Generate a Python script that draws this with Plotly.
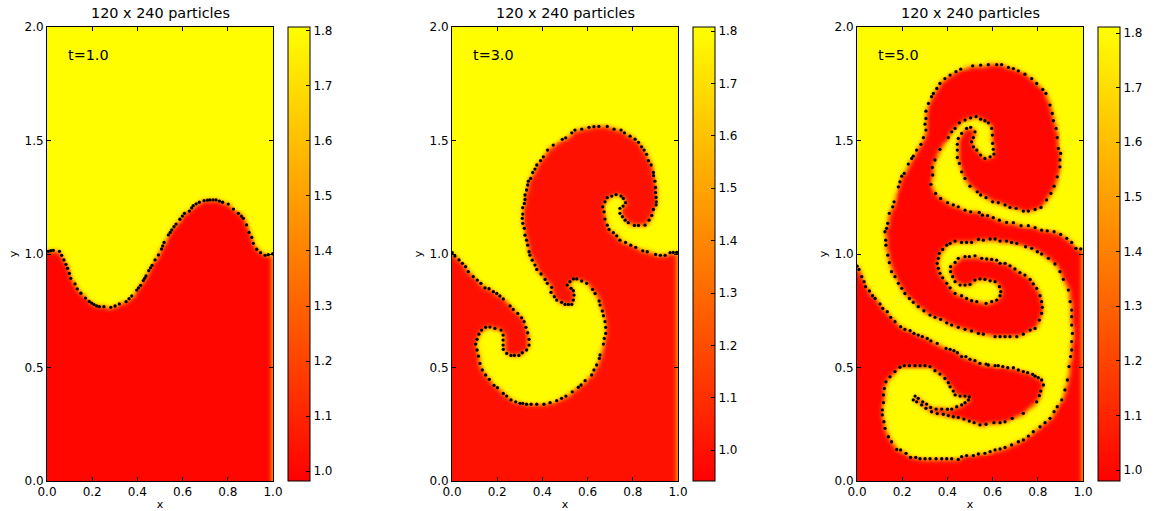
import numpy as np
import plotly.graph_objects as go

times = ["t=1.0", "t=3.0", "t=5.0"]
panel_title = "120 x 240 particles"
color_ranges = [(0.982, 1.807), (0.941, 1.808), (0.980, 1.811)]
low_density = 1.0
high_density = 1.8
x_ticks = [0.0, 0.2, 0.4, 0.6, 0.8, 1.0]
y_ticks = [0.0, 0.5, 1.0, 1.5, 2.0]
bar_ticks = [1.0, 1.1, 1.2, 1.3, 1.4, 1.5, 1.6, 1.7, 1.8]

interface_t1 = [(.006,1.012),(.017,1.015),(.028,1.016),(.055,1.012),(.065,.994),(.075,.974),(.084,.954),(.091,.937),(.099,.915),(.105,.893),
(.124,.868),(.134,.846),(.150,.827),(.170,.806),(.187,.791),(.198,.784),(.208,.777),(.220,.771),(.232,.768),(.252,.768),(.282,.765),(.301,.771),(.320,.780),(.350,.790),
(.363,.803),(.375,.815),(.397,.841),(.405,.851),(.414,.862),(.426,.883),(.432,.893),(.438,.903),(.450,.927),(.458,.939),(.465,.950),(.478,.974),(.493,.996),(.507,1.022),
(.512,1.036),(.518,1.051),(.537,1.084),(.545,1.095),(.552,1.106),(.562,1.120),(.571,1.132),(.588,1.153),(.599,1.167),(.608,1.179),(.630,1.189),(.640,1.203),(.647,1.213),(.660,1.221),(.674,1.228),
(.695,1.235),(.710,1.237),(.721,1.238),(.735,1.238),(.748,1.238),(.763,1.233),(.777,1.228),(.802,1.220),(.825,1.198),(.847,1.179),(.860,1.167),(.869,1.157),(.883,1.128),
(.894,1.095),(.906,1.073),(.913,1.047),(.928,1.021),(.945,1.006),(.965,.994),(.979,.997),(.999,1.001)]

interface_t3 = [(.001,1.006),(.013,.991),(.031,.974),(.046,.959),(.060,.944),(.072,.922),(.094,.900),(.112,.885),(.128,.871),(.146,.851),
(.164,.847),(.183,.834),(.198,.826),(.212,.815),(.227,.802),(.257,.771),(.271,.756),(.291,.738),(.308,.719),(.319,.702),(.327,.677),(.335,.653),
(.341,.624),(.341,.599),(.330,.577),(.311,.565),(.296,.553),(.276,.553),(.261,.553),(.242,.562),(.227,.580),(.226,.599),(.226,.621),(.226,.643),
(.217,.665),(.190,.672),(.168,.678),(.149,.677),(.131,.665),(.119,.647),(.111,.624),(.105,.603),(.111,.577),(.117,.550),(.124,.518),(.134,.489),
(.149,.467),(.165,.448),(.186,.421),(.201,.411),(.227,.386),(.242,.374),(.261,.357),(.282,.349),(.301,.342),(.313,.342),(.330,.338),(.350,.338),
(.375,.338),(.407,.338),(.434,.345),(.463,.354),(.485,.364),(.504,.374),(.532,.393),(.559,.413),(.571,.423),(.589,.442),(.618,.467),(.628,.489),
(.640,.511),(.652,.540),(.655,.555),(.670,.603),(.674,.628),(.680,.650),(.680,.677),(.677,.702),(.670,.728),(.665,.749),(.655,.775),(.651,.793),
(.633,.826),(.622,.844),(.596,.871),(.574,.881),(.552,.890),(.537,.890),(.522,.878),(.510,.863),(.527,.849),(.537,.838),(.540,.819),(.537,.797),
(.530,.778),(.515,.778),(.500,.778),(.485,.787),(.463,.797),(.453,.812),(.438,.831),(.441,.853),(.422,.871),(.412,.888),(.394,.912),(.375,.932),
(.367,.951),(.355,.973),(.345,.995),(.341,1.010),(.335,1.039),(.330,1.061),(.323,1.083),(.320,1.113),(.313,1.135),(.311,1.157),(.313,1.176),
(.313,1.204),(.320,1.223),(.323,1.240),(.323,1.260),(.330,1.282),(.335,1.304),(.338,1.321),(.348,1.333),(.357,1.359),(.367,1.374),(.375,1.392),
(.392,1.411),(.404,1.428),(.423,1.458),(.448,1.480),(.488,1.505),(.503,1.512),(.530,1.534),(.544,1.546),(.574,1.550),(.606,1.558),(.628,1.561),
(.650,1.562),(.687,1.562),(.717,1.550),(.748,1.546),(.763,1.534),(.788,1.519),(.810,1.506),(.825,1.492),(.839,1.472),(.850,1.458),(.861,1.439),
(.869,1.411),(.881,1.392),(.891,1.359),(.892,1.345),(.898,1.321),(.901,1.293),(.901,1.270),(.903,1.249),(.904,1.230),(.903,1.216),(.891,1.196),
(.884,1.170),(.872,1.149),(.854,1.127),(.825,1.126),(.807,1.126),(.780,1.138),(.766,1.149),(.754,1.164),(.743,1.179),(.743,1.201),(.757,1.211),
(.768,1.226),(.758,1.245),(.748,1.255),(.726,1.262),(.707,1.255),(.687,1.248),(.677,1.230),(.667,1.208),(.673,1.186),(.677,1.154),(.687,1.127),
(.695,1.108),(.714,1.094),(.729,1.080),(.743,1.061),(.768,1.051),(.791,1.039),(.813,1.029),(.844,1.014),(.864,1.010),(.901,.998),(.922,.994),
(.943,.994),(.965,1.006),(.979,1.007),(.994,1.007)]

interface_t5 = [(.001,.947),(.009,.932),(.021,.900),(.031,.878),(.038,.856),(.055,.837),(.069,.816),(.080,.804),(.102,.780),(.114,.760),(.134,.746),
(.149,.721),(.168,.702),(.193,.680),(.212,.668),(.235,.662),(.252,.650),(.271,.643),(.289,.636),(.311,.628),(.327,.617),(.355,.606),(.394,.584),
(.412,.580),(.429,.574),(.444,.565),(.463,.548),(.482,.548),(.500,.536),(.522,.530),(.544,.518),(.571,.515),(.581,.511),(.611,.508),(.625,.508),
(.645,.504),(.667,.499),(.692,.499),(.714,.489),(.736,.482),(.755,.477),(.777,.470),(.788,.462),(.802,.455),(.817,.445),(.825,.423),(.813,.396),
(.807,.376),(.795,.349),(.736,.298),(.687,.276),(.655,.261),(.633,.257),(.606,.257),(.571,.250),(.544,.247),(.518,.257),(.497,.264),(.473,.273),
(.448,.280),(.426,.283),(.404,.288),(.382,.294),(.355,.297),(.330,.305),(.305,.320),(.286,.335),(.264,.349),(.249,.357),(.257,.374),(.271,.364),
(.291,.349),(.308,.339),(.326,.324),(.350,.317),(.375,.317),(.400,.316),(.419,.317),(.441,.327),(.463,.335),(.478,.345),(.493,.357),(.497,.371),
(.478,.374),(.456,.374),(.434,.379),(.426,.396),(.412,.415),(.404,.433),(.389,.452),(.367,.471),(.345,.486),(.323,.504),(.301,.508),(.279,.508),
(.257,.508),(.232,.508),(.209,.508),(.190,.501),(.168,.482),(.146,.459),(.128,.437),(.121,.408),(.117,.379),(.117,.345),(.112,.313),(.112,.291),
(.119,.261),(.124,.232),(.139,.195),(.153,.173),(.176,.139),(.193,.137),(.217,.122),(.237,.104),(.260,.104),(.279,.098),(.301,.098),(.323,.098),
(.350,.098),(.375,.098),(.397,.098),(.419,.098),(.448,.095),(.463,.107),(.485,.112),(.515,.112),(.537,.119),(.566,.122),(.589,.129),(.611,.137),
(.633,.141),(.655,.148),(.684,.159),(.714,.173),(.736,.181),(.758,.198),(.780,.217),(.810,.239),(.832,.257),(.854,.276),(.872,.305),(.886,.327),
(.906,.357),(.920,.401),(.931,.445),(.938,.504),(.945,.548),(.950,.577),(.950,.614),(.953,.650),(.950,.687),(.950,.724),(.950,.753),(.943,.790),
(.935,.841),(.913,.888),(.898,.922),(.876,.956),(.847,.981),(.817,1.000),(.798,1.010),(.773,1.025),(.746,1.032),(.707,1.047),(.684,1.051),
(.662,1.057),(.633,1.057),(.611,1.066),(.589,1.066),(.559,1.061),(.537,1.064),(.507,1.051),(.485,1.051),(.463,1.051),(.434,1.057),(.412,1.047),
(.397,1.039),(.379,1.020),(.364,1.003),(.360,.981),(.355,.959),(.360,.937),(.367,.915),(.379,.895),(.397,.871),(.412,.851),(.434,.826),(.463,.816),
(.485,.804),(.507,.794),(.530,.790),(.571,.782),(.596,.790),(.618,.797),(.633,.816),(.636,.834),(.630,.856),(.611,.878),(.589,.882),(.566,.888),
(.544,.890),(.522,.885),(.500,.866),(.478,.863),(.456,.863),(.434,.878),(.423,.900),(.414,.922),(.414,.944),(.434,.963),(.448,.981),(.478,.988),
(.497,.988),(.522,.992),(.552,.981),(.574,.978),(.596,.976),(.618,.973),(.633,.959),(.655,.959),(.677,.948),(.699,.934),(.721,.918),(.743,.907),
(.766,.888),(.780,.868),(.795,.849),(.810,.816),(.817,.790),(.820,.765),(.817,.738),(.807,.709),(.788,.672),(.766,.665),(.736,.647),(.707,.636),
(.677,.636),(.655,.636),(.633,.636),(.611,.636),(.559,.647),(.537,.650),(.507,.661),(.478,.668),(.448,.677),(.419,.687),(.397,.697),(.370,.712),
(.345,.721),(.323,.731),(.296,.750),(.271,.768),(.249,.787),(.232,.804),(.212,.826),(.198,.849),(.183,.871),(.168,.900),(.153,.922),(.143,.962),
(.136,.995),(.128,1.039),(.127,1.061),(.124,1.098),(.131,1.113),(.136,1.135),(.143,1.179),(.158,1.208),(.164,1.230),(.183,1.296),(.190,1.318),
(.198,1.343),(.209,1.355),(.227,1.396),(.242,1.421),(.249,1.431),(.264,1.458),(.283,1.483),(.294,1.513),(.305,1.546),(.301,1.572),(.305,1.597),
(.305,1.629),(.316,1.663),(.330,1.693),(.338,1.707),(.353,1.729),(.367,1.751),(.389,1.773),(.412,1.788),(.438,1.803),(.459,1.814),(.512,1.829),
(.547,1.832),(.581,1.834),(.618,1.834),(.640,1.834),(.670,1.822),(.692,1.817),(.714,1.807),(.743,1.792),(.773,1.773),(.795,1.751),(.822,1.725),
(.836,1.707),(.854,1.656),(.864,1.619),(.869,1.587),(.881,1.553),(.886,1.513),(.891,1.465),(.901,1.443),(.898,1.414),(.898,1.384),(.886,1.340),
(.872,1.299),(.858,1.267),(.839,1.238),(.814,1.205),(.788,1.196),(.758,1.189),(.736,1.189),(.704,1.201),(.677,1.205),(.655,1.216),(.625,1.226),
(.600,1.230),(.571,1.248),(.547,1.260),(.532,1.274),(.500,1.299),(.478,1.333),(.463,1.362),(.453,1.399),(.444,1.425),(.444,1.458),(.444,1.483),
(.448,1.509),(.463,1.531),(.485,1.553),(.503,1.558),(.522,1.538),(.515,1.513),(.507,1.494),(.515,1.472),(.530,1.458),(.547,1.436),(.566,1.421),
(.589,1.428),(.606,1.440),(.603,1.461),(.600,1.487),(.599,1.524),(.596,1.553),(.581,1.578),(.566,1.587),(.547,1.594),(.527,1.605),(.503,1.600),
(.478,1.590),(.453,1.578),(.434,1.553),(.419,1.538),(.404,1.513),(.367,1.461),(.345,1.414),(.333,1.381),(.335,1.348),(.327,1.307),(.348,1.267),
(.370,1.245),(.401,1.226),(.426,1.216),(.448,1.208),(.478,1.193),(.503,1.186),(.541,1.183),(.555,1.171),(.578,1.169),(.603,1.160),(.630,1.149),
(.662,1.139),(.692,1.138),(.726,1.125),(.758,1.125),(.788,1.116),(.817,1.105),(.842,1.102),(.872,1.098),(.901,1.086),(.928,1.069),(.950,1.051),
(.969,1.025),(.990,1.022)]

interfaces = [interface_t1, interface_t3, interface_t5]

W, H = 1154, 511
plot_left = [47, 452, 857]
plot_w = 226
bar_left = [288, 693, 1098]
top, bottom = 27, 481


def density_field(points, gx, gy):
    """Even-odd fill of the region under the interface, softened at the edge."""
    first, last = points[0], points[-1]
    poly = np.array(list(points) + [(1.0, last[1]), (1.0, 0.0), (0.0, 0.0), (0.0, first[1])])
    X, Y = np.meshgrid(gx, gy)
    inside = np.zeros(X.shape, dtype=bool)
    for (x0, y0), (x1, y1) in zip(poly, np.roll(poly, -1, axis=0)):
        if y0 == y1:
            continue
        crosses = (y0 > Y) != (y1 > Y)
        inside ^= crosses & (X < x0 + (Y - y0) * (x1 - x0) / (y1 - y0))
    field = np.where(inside, low_density, high_density).astype(float)
    k = np.array([1, 2, 1]) / 4
    for _ in range(3):
        p = np.pad(field, 1, mode="edge")
        field = k[0] * p[:-2, 1:-1] + k[1] * p[1:-1, 1:-1] + k[2] * p[2:, 1:-1]
        p = np.pad(field, 1, mode="edge")
        field = k[0] * p[1:-1, :-2] + k[1] * p[1:-1, 1:-1] + k[2] * p[1:-1, 2:]
    return field


gx = np.linspace(0, 1, 121)
gy = np.linspace(0, 2, 241)
font = dict(family="DejaVu Sans", color="black")
fig = go.Figure()
annotations = []
layout_axes = {}

for i in range(3):
    suffix = "" if i == 0 else str(i + 1)
    xa, ya = "x" + suffix, "y" + suffix
    zmin, zmax = color_ranges[i]
    fig.add_trace(go.Heatmap(
        x=gx, y=gy, z=density_field(interfaces[i], gx, gy), xaxis=xa, yaxis=ya,
        zmin=zmin, zmax=zmax, zsmooth="best",
        colorscale=[[0, "#ff0000"], [1, "#ffff00"]],
        colorbar=dict(
            x=bar_left[i] / W, xanchor="left", xpad=0, ypad=0,
            y=(H - bottom) / H, yanchor="bottom", len=(bottom - top) / H, lenmode="fraction",
            thickness=22, thicknessmode="pixels",
            tickmode="array", tickvals=bar_ticks, ticktext=[f"{v:.1f}" for v in bar_ticks],
            ticks="inside", ticklen=4, tickcolor="black", tickwidth=1,
            outlinewidth=1, outlinecolor="black",
            tickfont=dict(size=12, **font),
        ),
    ))
    fig.add_trace(go.Scatter(
        x=[p[0] for p in interfaces[i]], y=[p[1] for p in interfaces[i]],
        xaxis=xa, yaxis=ya, mode="markers",
        marker=dict(color="black", size=3.3, line=dict(width=0)),
        showlegend=False, hoverinfo="skip",
    ))
    common = dict(showgrid=False, zeroline=False, showline=True, linecolor="black", linewidth=1,
                  mirror="allticks", ticks="inside", ticklen=4, tickcolor="black",
                  tickfont=dict(size=12, **font), tickformat=".1f", automargin=False)
    layout_axes["xaxis" + suffix] = dict(
        domain=[plot_left[i] / W, (plot_left[i] + plot_w) / W], range=[0, 1], anchor=ya,
        tickmode="array", tickvals=x_ticks,
        title=dict(text="x", font=dict(size=11, **font), standoff=2), **common)
    layout_axes["yaxis" + suffix] = dict(
        domain=[(H - bottom) / H, (H - top) / H], range=[0, 2], anchor=xa,
        tickmode="array", tickvals=y_ticks,
        title=dict(text="y", font=dict(size=11, **font), standoff=4), **common)
    annotations.append(dict(
        text=panel_title, xref="paper", yref="paper",
        x=(plot_left[i] + plot_w / 2) / W, y=(H - top + 4) / H,
        xanchor="center", yanchor="bottom", showarrow=False, font=dict(size=14.4, **font)))
    annotations.append(dict(
        text=times[i], xref=xa, yref=ya, x=0.085, y=1.875,
        xanchor="left", yanchor="middle", showarrow=False, font=dict(size=14.4, **font)))

fig.update_layout(
    width=W, height=H, margin=dict(l=0, r=0, t=0, b=0, autoexpand=False),
    paper_bgcolor="white", plot_bgcolor="white", showlegend=False,
    annotations=annotations, **layout_axes,
)
fig.write_html("out.html", config={"displayModeBar": False},
               post_script="document.body.style.margin='0';")
